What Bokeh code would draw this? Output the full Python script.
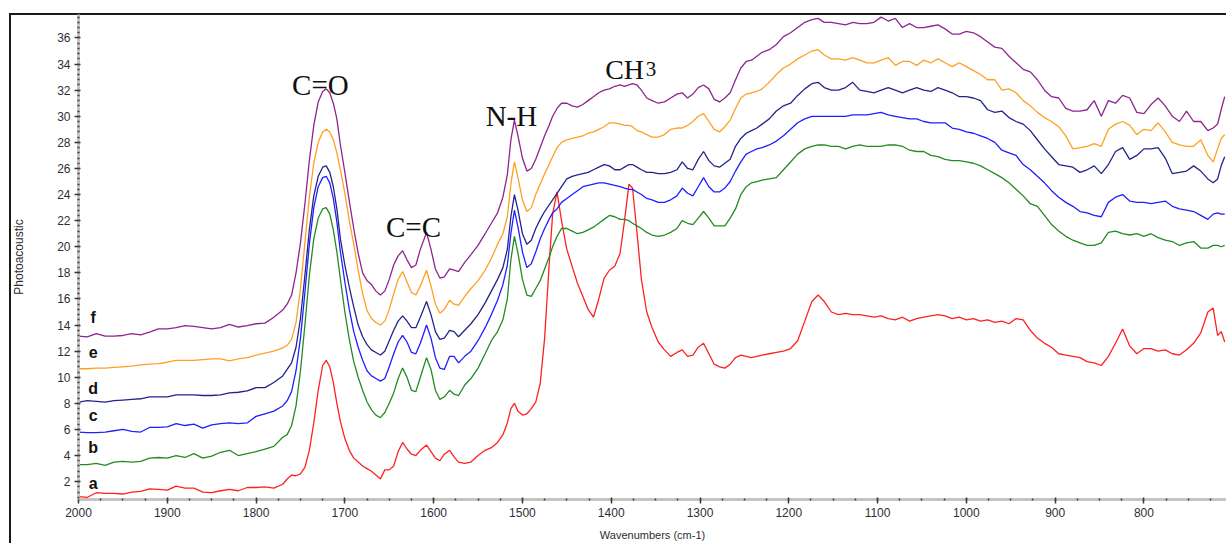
import numpy as np
from bokeh.plotting import figure
from bokeh.models import Range1d, FixedTicker, Label
from bokeh.embed import file_html
from bokeh.resources import INLINE

# ---------------- data ----------------
wavenumber = [
    2000, 1990, 1980, 1970, 1960, 1950, 1940, 1930, 1920, 1910, 1900, 1890, 1880, 1870, 1860, 1850, 1840, 1830, 1820, 1810, 1800, 1790, 1780, 1770,
    1765, 1760, 1755, 1750, 1745, 1740, 1735, 1730, 1725, 1721, 1717, 1713, 1709, 1705, 1700, 1695, 1690, 1685, 1680, 1675, 1670, 1665, 1660,
    1655, 1650, 1645, 1640, 1635, 1630, 1625, 1620, 1615, 1608, 1603, 1598, 1593, 1588, 1582, 1577, 1572, 1565, 1558, 1550, 1542, 1535, 1528, 1522,
    1517, 1513, 1509, 1505, 1500, 1495, 1490, 1485, 1480, 1475, 1470, 1466, 1461, 1456, 1450, 1444, 1438, 1432, 1426, 1420, 1414, 1408, 1402, 1396,
    1390, 1385, 1380, 1376, 1371, 1366, 1360, 1354, 1347, 1340, 1333, 1326, 1320, 1314, 1308, 1302, 1296, 1290, 1284, 1278, 1272, 1266, 1260, 1254,
    1248, 1242, 1236, 1230,
    1222, 1214, 1206, 1198, 1190, 1182, 1174, 1167, 1160, 1152, 1144, 1136, 1128, 1120, 1112, 1104, 1096, 1088, 1080, 1072, 1064, 1056, 1048, 1040,
    1032, 1024, 1016, 1008, 1000, 992, 984, 976, 968, 960, 952, 944, 936, 928, 920, 912, 904, 896, 888, 880, 872, 864, 856, 848, 840, 832, 824, 816,
    808, 800, 792, 784, 776, 768, 760, 752, 744, 736, 728, 722, 717, 713, 709,
]

series_a = [
    0.85, 0.8, 1.15, 1.1, 1.1, 1.05, 1.2, 1.25, 1.45, 1.4, 1.35, 1.65, 1.5, 1.5, 1.2, 1.15, 1.3, 1.4, 1.3, 1.55, 1.55, 1.6, 1.5, 1.8,
    2.2, 2.5, 2.45, 2.6, 3.1, 4.4, 6.5, 9.0, 10.9, 11.3, 10.8, 9.6, 8.0, 6.6, 5.3, 4.4, 3.8, 3.5, 3.2, 3.0, 2.8, 2.5, 2.2,
    2.9, 2.9, 3.2, 4.3, 5.0, 4.5, 4.1, 4.0, 4.4, 4.8, 4.3, 3.8, 3.6, 4.1, 4.4, 3.9, 3.5, 3.4, 3.5, 4.0, 4.4, 4.6, 5.0, 5.6,
    6.5, 7.6, 8.0, 7.4, 7.1, 7.2, 7.6, 8.1, 9.5, 13.0, 18.5, 22.5, 24.2, 22.0, 19.8, 18.5, 17.2, 16.2, 15.2, 14.6, 16.0, 17.6, 18.2, 18.5,
    19.5, 22.0, 24.8, 24.5, 21.1, 17.5, 15.0, 13.8, 12.7, 12.1, 11.6, 11.9, 12.1, 11.6, 11.7, 12.3, 12.6, 11.8, 11.0, 10.8, 10.7, 11.0, 11.5, 11.7,
    11.6, 11.5, 11.6, 11.7,
    11.8, 11.9, 12.0, 12.2, 12.8, 14.3, 15.8, 16.3, 15.8, 15.0, 14.8, 14.9, 14.8, 14.8, 14.7, 14.6, 14.7, 14.5, 14.4, 14.6, 14.3, 14.5, 14.6, 14.7,
    14.8, 14.7, 14.5, 14.6, 14.4, 14.5, 14.3, 14.4, 14.2, 14.3, 14.1, 14.5, 14.4, 13.6, 13.0, 12.6, 12.3, 11.8, 11.7, 11.6, 11.5, 11.2, 11.1, 10.9, 11.6, 12.6, 13.7, 12.4,
    11.8, 12.2, 12.2, 12.0, 12.1, 11.8, 11.7, 12.1, 12.6, 13.4, 15.0, 15.3, 13.2, 13.5, 12.7,
]

series_b = [
    3.3, 3.3, 3.4, 3.25, 3.5, 3.55, 3.5, 3.55, 3.8, 3.85, 3.8, 4.0, 3.85, 4.15, 3.8, 3.95, 4.25, 4.4, 4.0, 4.15, 4.3, 4.5, 4.7, 5.4,
    5.6, 6.3, 7.8, 10.5, 14.0, 17.8, 20.6, 22.2, 22.9, 23.0, 22.5, 21.3, 19.6, 17.5, 15.0, 12.9, 11.2, 10.0, 9.0, 8.1, 7.5, 7.1, 6.9,
    7.3, 8.0, 8.8, 9.9, 10.7, 10.0, 9.0, 8.9, 10.0, 11.5, 10.6, 9.0, 8.3, 8.5, 9.0, 8.7, 8.6, 9.4, 9.9, 10.7, 11.8, 12.8, 13.5, 14.4,
    16.0, 19.0, 20.8, 19.5, 17.5, 16.3, 16.2, 16.8, 17.4, 18.3, 19.2, 20.0, 20.8, 21.4, 21.4, 21.2, 21.0, 21.1, 21.3, 21.5, 21.8, 22.1, 22.4, 22.3,
    22.1, 22.1, 22.0, 21.8, 21.6, 21.4, 21.1, 20.9, 20.8, 20.9, 21.1, 21.4, 22.0, 21.8, 21.7, 22.2, 22.7, 22.2, 21.6, 21.6, 21.6, 22.2, 22.9, 24.0,
    24.6, 24.9, 25.0, 25.1,
    25.2, 25.3, 25.9, 26.5, 27.1, 27.5, 27.7, 27.8, 27.8, 27.7, 27.7, 27.5, 27.7, 27.8, 27.7, 27.7, 27.7, 27.8, 27.8, 27.7, 27.4, 27.3, 27.3, 27.0,
    26.9, 26.7, 26.6, 26.6, 26.5, 26.4, 26.2, 25.9, 25.6, 25.3, 24.9, 24.4, 23.9, 23.3, 23.1, 22.4, 21.7, 21.2, 20.8, 20.5, 20.3, 20.1, 20.1, 20.3, 21.1, 21.2, 21.0, 20.9,
    21.0, 20.8, 21.0, 20.7, 20.5, 20.4, 20.1, 20.3, 20.4, 19.9, 19.9, 20.1, 20.1, 20.0, 20.1,
]

series_c = [
    5.8, 5.75, 5.75, 5.8, 5.9, 6.0, 5.85, 5.8, 6.15, 6.15, 6.2, 6.45, 6.3, 6.4, 6.1, 6.35, 6.45, 6.5, 6.45, 6.5, 7.0, 7.2, 7.4, 7.8,
    8.2, 8.9, 10.5, 13.0, 16.5, 20.2, 23.0, 24.6, 25.3, 25.4, 24.9, 23.7, 21.9, 19.6, 17.3, 15.2, 13.5, 12.3, 11.3, 10.5, 10.1, 9.9, 9.7,
    9.9, 10.8, 11.8, 12.7, 13.2, 12.7, 11.9, 11.8, 12.6, 14.0, 13.0, 11.5, 10.7, 10.6, 11.6, 11.6, 11.1, 11.6, 12.0, 12.8, 13.8, 14.8, 15.9, 17.1,
    18.6, 21.0, 22.8, 21.5, 19.6, 18.4, 18.7, 19.6, 20.6, 21.4, 22.1, 22.6, 22.9, 23.4, 23.7, 24.0, 24.3, 24.6, 24.7, 24.8, 24.9, 24.9, 24.8, 24.7,
    24.6, 24.5, 24.4, 24.4, 24.2, 24.0, 23.7, 23.6, 23.4, 23.4, 23.6, 23.9, 24.5, 24.1, 23.9, 24.6, 25.3, 24.6, 24.2, 24.2, 24.5, 25.0, 25.8, 26.5,
    27.1, 27.3, 27.5, 27.6,
    27.8, 28.1, 28.5, 29.0, 29.5, 29.8, 30.0, 30.0, 30.0, 30.0, 30.0, 30.0, 30.1, 30.1, 30.1, 30.2, 30.3, 30.1, 30.0, 29.9, 29.8, 29.8, 29.6, 29.5,
    29.5, 29.5, 29.1, 29.0, 28.8, 28.7, 28.5, 28.3, 28.0, 27.4, 27.2, 27.0, 26.3, 25.9, 25.4, 24.9, 24.3, 23.8, 23.4, 23.1, 22.7, 22.6, 22.4, 22.3, 23.4, 23.8, 24.0, 23.5,
    23.4, 23.4, 23.3, 23.4, 23.5, 23.1, 22.9, 22.8, 22.7, 22.4, 22.1, 22.5, 22.6, 22.5, 22.5,
]

series_d = [
    8.1, 8.2, 8.15, 8.1, 8.2, 8.25, 8.3, 8.35, 8.5, 8.5, 8.5, 8.65, 8.65, 8.65, 8.6, 8.6, 8.65, 8.8, 8.85, 8.95, 9.2, 9.2, 9.6, 10.1,
    10.6, 11.1, 12.3, 14.5, 17.8, 21.3, 23.9, 25.4, 26.1, 26.2, 25.7, 24.6, 22.9, 20.6, 18.6, 16.9, 15.4, 14.0, 13.1, 12.5, 12.1, 11.9, 11.7,
    12.0, 12.8, 13.6, 14.3, 14.7, 14.3, 13.8, 13.8, 14.6, 15.8, 14.8, 13.5, 12.9, 13.0, 13.6, 13.5, 13.1, 13.6, 14.1, 14.8, 15.7, 16.6, 17.5, 18.4,
    19.8, 22.3, 24.0, 22.8, 21.0, 20.2, 20.5, 21.4, 22.1, 22.7, 23.2, 23.6, 24.1, 24.6, 25.2, 25.4, 25.5, 25.6, 25.7, 25.9, 26.1, 26.3, 26.2, 25.9,
    25.9, 26.1, 26.3, 26.3, 26.1, 25.9, 25.7, 25.7, 25.6, 25.6, 25.7, 25.9, 26.5, 26.0, 25.9, 26.7, 27.3, 26.6, 26.2, 26.1, 26.4, 26.7, 27.7, 28.3,
    28.7, 28.9, 29.1, 29.4,
    29.8, 30.4, 30.8, 31.0, 31.6, 32.1, 32.5, 32.6, 32.2, 32.0, 32.0, 32.2, 32.6, 32.0, 31.9, 31.8, 32.0, 32.2, 32.0, 31.8, 32.0, 32.2, 32.0, 31.9,
    32.2, 32.0, 31.8, 31.5, 31.5, 31.4, 31.2, 30.5, 30.3, 30.4, 29.9, 29.6, 29.4, 28.9, 28.2, 27.5, 26.9, 26.3, 26.2, 26.1, 25.7, 25.9, 26.2, 25.6, 26.3, 27.3, 27.6, 26.7,
    27.0, 27.5, 27.5, 27.6, 26.8, 25.6, 25.7, 25.8, 26.2, 25.8, 25.2, 24.9, 25.2, 26.2, 26.9,
]

series_e = [
    10.65, 10.65, 10.7, 10.7, 10.75, 10.8, 10.85, 10.95, 11.0, 11.05, 11.15, 11.3, 11.3, 11.3, 11.35, 11.4, 11.4, 11.25, 11.4, 11.5, 11.7, 11.85, 12.0, 12.25,
    12.45, 12.9, 14.2, 16.8, 20.3, 23.8, 26.4, 28.0, 28.8, 29.0, 28.8, 28.2, 27.2, 25.9, 24.1, 22.0, 20.2, 18.2, 16.4, 15.1, 14.5, 14.2, 14.0,
    14.3, 15.2, 16.4, 17.5, 18.1, 17.3, 16.5, 16.3, 17.0, 18.2, 17.0, 15.6, 14.9, 15.2, 15.9, 15.6, 15.5, 16.2, 16.8, 17.4, 18.2, 19.1, 20.2, 21.0,
    22.3, 24.8, 26.5, 25.3, 23.6, 22.7, 23.0, 24.0, 24.8, 25.6, 26.3, 26.9, 27.6, 28.0, 28.2, 28.3, 28.4, 28.5, 28.7, 28.8, 29.0, 29.2, 29.5, 29.5,
    29.4, 29.3, 29.3, 29.2, 28.9, 28.8, 28.6, 28.4, 28.4, 28.6, 29.0, 29.1, 29.1, 29.3, 29.6, 30.0, 30.2, 29.6, 29.0, 28.8, 29.2, 29.7, 30.6, 31.4,
    31.7, 31.8, 31.9, 32.1,
    32.6, 33.2, 33.7, 34.0, 34.4, 34.7, 35.0, 35.1, 34.7, 34.4, 34.4, 34.3, 34.5, 34.3, 34.1, 34.1, 34.3, 34.5, 33.9, 34.2, 34.2, 33.9, 34.3, 34.1,
    34.4, 34.1, 33.8, 34.1, 33.8, 33.5, 33.2, 32.8, 32.8, 32.0, 32.1, 31.8, 31.2, 30.8, 30.3, 29.9, 29.6, 29.2, 28.5, 27.5, 27.6, 27.7, 27.9, 27.7, 29.0, 29.4, 29.6, 29.3,
    28.6, 29.0, 28.9, 29.5, 28.8, 28.0, 27.8, 27.7, 27.7, 28.2, 27.0, 26.5, 27.5, 28.3, 28.6,
]

series_f = [
    13.15, 13.1, 13.35, 13.15, 13.15, 13.2, 13.35, 13.25, 13.45, 13.7, 13.7, 13.8, 13.95, 13.9, 13.8, 13.7, 13.8, 14.05, 13.85, 13.95, 14.1, 14.15, 14.6, 15.15,
    15.6, 16.3, 18.0, 20.3, 23.3, 26.6, 29.3, 31.1, 31.9, 32.1, 31.8, 31.0, 29.8, 27.8, 25.7, 23.5, 21.4, 19.5, 18.0, 17.4, 17.1, 16.6, 16.3,
    16.6, 17.5, 18.6, 19.3, 19.7, 19.0, 18.4, 18.6, 19.8, 21.1, 19.8, 18.3, 17.6, 17.7, 18.3, 18.2, 18.1, 18.8, 19.4, 20.1, 21.0, 21.8, 22.6, 23.8,
    25.5, 28.2, 29.7, 28.5, 26.8, 25.8, 26.0, 26.7, 27.6, 28.5, 29.3, 30.0, 30.6, 31.0, 31.0, 30.8, 30.7, 30.9, 31.2, 31.5, 31.8, 32.0, 32.1, 32.3,
    32.4, 32.3, 32.4, 32.5, 32.4, 32.0, 31.4, 31.2, 31.0, 31.1, 31.4, 31.7, 31.8, 31.4, 31.7, 32.2, 32.4, 32.1, 31.3, 31.1, 31.4, 31.8, 32.8, 33.7,
    34.2, 34.3, 34.6, 34.9,
    35.1, 35.5, 36.1, 36.4, 36.8, 37.2, 37.4, 37.5, 37.2, 37.2, 37.1, 37.0, 37.2, 37.1, 37.1, 37.2, 37.6, 37.3, 37.5, 36.8, 37.1, 36.8, 36.8, 36.9,
    37.0, 36.7, 36.3, 36.3, 36.5, 36.4, 36.1, 35.7, 35.3, 35.2, 34.6, 34.1, 33.6, 33.4, 32.8, 32.0, 31.5, 31.4, 30.6, 30.4, 30.4, 30.5, 31.2, 30.0, 31.2, 31.0, 31.6, 31.4,
    30.3, 30.2, 30.9, 31.4, 30.8, 30.0, 29.6, 30.4, 29.6, 29.6, 28.9, 29.1, 29.4, 30.5, 31.5,
]

series_names = ["a", "b", "c", "d", "e", "f"]
series_colors = ["#ff2020", "#238b23", "#1f1fff", "#23238c", "#ffa024", "#8e248e"]
name_label_y = [1.85, 4.6, 7.05, 9.1, 11.95, 14.55]

x_ticks = list(range(2000, 699, -100))
y_ticks = list(range(2, 37, 2))

for s in (series_a, series_b, series_c, series_d, series_e, series_f):
    assert len(s) == len(wavenumber), (len(s), len(wavenumber))

# ---------------- figure ----------------
p = figure(
    width=1217, height=530,
    x_range=Range1d(2000, 707), y_range=Range1d(0.63, 37.8),
    output_backend="svg", toolbar_location=None,
    min_border_left=69, min_border_right=0, min_border_top=1, min_border_bottom=41,
    background_fill_color=None, border_fill_color=None,
    outline_line_color=None,
)
p.margin = (13, 0, 0, 9)
p.styles = {"box-shadow": "inset 2px 2px 0 0 #1a1a1a"}
p.grid.visible = False

all_series = [series_a, series_b, series_c, series_d, series_e, series_f]
for ys, col in zip(all_series, series_colors):
    p.line(wavenumber, ys, line_color=col, line_width=1.3)

for nm, ly in zip(series_names, name_label_y):
    p.add_layout(Label(x=1983.5, y=ly, text=nm, text_align="center", text_baseline="middle",
                       text_font="Liberation Sans", text_font_size="16px", text_font_style="bold",
                       text_color="#111111"))

serif = "Liberation Serif"
p.add_layout(Label(x=1727.5, y=32.4, text="C=O", text_align="center", text_baseline="alphabetic",
                   text_font=serif, text_font_size="29px", text_color="#111111"))
p.add_layout(Label(x=1622.7, y=21.5, text="C=C", text_align="center", text_baseline="alphabetic",
                   text_font=serif, text_font_size="29px", text_color="#111111"))
p.add_layout(Label(x=1512.4, y=30.05, text="N-H", text_align="center", text_baseline="alphabetic",
                   text_font=serif, text_font_size="29px", text_color="#111111"))
p.add_layout(Label(x=1363, y=33.6, text="CH", text_align="right", text_baseline="alphabetic",
                   text_font=serif, text_font_size="28px", text_color="#111111"))
p.add_layout(Label(x=1361, y=33.6, text="3", text_align="left", text_baseline="alphabetic",
                   text_font=serif, text_font_size="21px", text_color="#111111"))

# axes
p.xaxis.ticker = FixedTicker(ticks=x_ticks, minor_ticks=list(np.arange(2000, 699, -25)))
p.yaxis.ticker = FixedTicker(ticks=y_ticks, minor_ticks=[round(v, 2) for v in np.arange(0.8, 37.8, 0.4)])
p.xaxis.axis_label = "Wavenumbers (cm-1)"
p.yaxis.axis_label = "Photoacoustic"

for ax in (p.xaxis[0], p.yaxis[0]):
    ax.axis_line_color = "#c4c4c4"
    ax.axis_line_width = 3
    ax.major_tick_line_color = "#3a3a3a"
    ax.major_tick_line_width = 1.5
    ax.major_tick_in = 2
    ax.major_tick_out = 4
    ax.minor_tick_line_color = "#3a3a3a"
    ax.minor_tick_line_width = 1.5
    ax.minor_tick_in = 1
    ax.minor_tick_out = 1
    ax.major_label_text_font = "Liberation Sans"
    ax.major_label_text_font_size = "12px"
    ax.major_label_text_color = "#2e2e3a"
    ax.axis_label_text_font = "Liberation Sans"
    ax.axis_label_text_font_style = "normal"
    ax.axis_label_text_color = "#2e2e2e"

p.xaxis.major_label_standoff = 4
p.xaxis.axis_label_text_font_size = "11px"
p.xaxis.axis_label_standoff = 9
p.yaxis.major_label_standoff = 4
p.yaxis.axis_label_text_font_size = "12px"
p.yaxis.axis_label_standoff = 28

open("out.html", "w").write(file_html(p, INLINE))
